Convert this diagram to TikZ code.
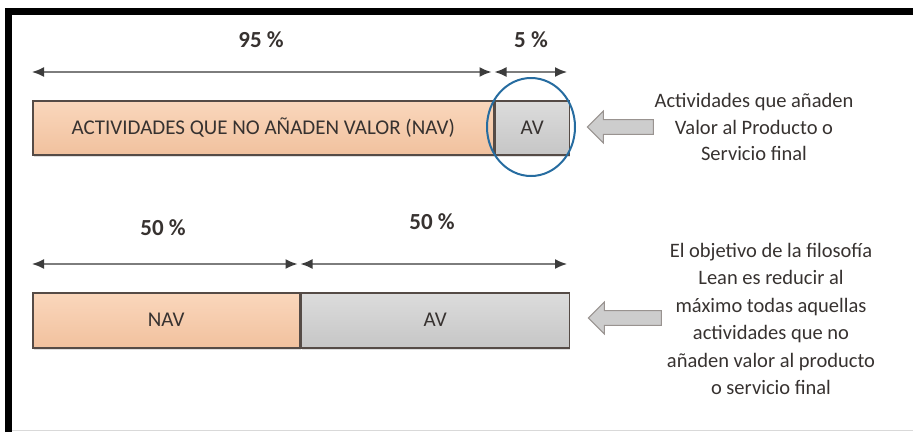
\documentclass[tikz,border=0pt]{standalone}
\usepackage{fontspec}
\setmainfont{Carlito}
\usetikzlibrary{arrows.meta,shapes.geometric,shapes.arrows,shadows}

\definecolor{navtop}{RGB}{250,215,188}
\definecolor{navbot}{RGB}{241,193,158}
\definecolor{avtop}{RGB}{220,220,220}
\definecolor{avbot}{RGB}{198,198,198}
\definecolor{edge}{RGB}{85,75,70}
\definecolor{ink}{RGB}{55,50,48}
\definecolor{ring}{RGB}{38,108,160}
\definecolor{dimline}{RGB}{125,125,125}
\definecolor{dimtip}{RGB}{60,60,60}
\definecolor{ptrfill}{RGB}{205,205,205}

\tikzset{
  bar/.style={draw=edge, line width=1.5pt, inner sep=0pt, anchor=north west,
    text=ink, font=\fontsize{21}{24}\selectfont,
    drop shadow={shadow xshift=1pt, shadow yshift=-2pt, opacity=.25}},
  navbar/.style={bar, top color=navtop, bottom color=navbot},
  avbar/.style={bar, top color=avtop, bottom color=avbot},
  dim/.style={draw=dimline, line width=1.6pt,
    {Latex[length=12pt,width=10pt,color=dimtip]}-{Latex[length=12pt,width=10pt,color=dimtip]}},
  pct/.style={text=ink, font=\fontsize{23}{26}\selectfont\bfseries},
  pointer/.style={single arrow, shape border rotate=180, draw=edge!60, line width=1pt,
    fill=ptrfill, inner xsep=0pt, inner ysep=5.5pt, minimum width=32, single arrow tip angle=90},
  note/.style={align=center, text=ink}
}

\begin{document}
\begin{tikzpicture}[x=1pt,y=-1pt]
\useasboundingbox (0,0) rectangle (913,432);

% frame
\draw[line width=7pt, line join=miter] (8.5,432) -- (8.5,11.5) -- (913,11.5);
\draw[line width=1.5pt, black!15] (12,430.5) -- (913,430.5);

% 95 / 5
\node[navbar, minimum width=461, minimum height=54] (nav1) at (32,100) {ACTIVIDADES QUE NO AÑADEN VALOR (NAV)};
\node[avbar, minimum width=74, minimum height=54] (av1) at (nav1.north east) {AV};
\node[ellipse, draw=ring, line width=2pt, minimum width=88, minimum height=98, inner sep=0pt] (halo) at (531,127) {};

\coordinate (a0) at (32,72);
\coordinate (a1) at (493,72);
\coordinate (a2) at (567,72);
\draw[dim, shorten >=1.5pt] (a0) -- (a1);
\draw[dim, shorten <=1.5pt] (a1) -- (a2);
\node[pct] (p95) at (261,40) {95 \%};
\node[pct] (p5) at (531,40) {5 \%};

\node[pointer, minimum height=66] (ptr1) at (624,127) {};
\node[note, font=\fontsize{20.5}{26.5}\selectfont] (txt1) at (754,127)
  {Actividades que añaden\\Valor al Producto o\\Servicio final};

% 50 / 50
\node[navbar, minimum width=267, minimum height=55] (nav2) at (32,292) {NAV};
\node[avbar, minimum width=268, minimum height=55] (av2) at (nav2.north east) {AV};

\coordinate (b0) at (32,264);
\coordinate (b1) at (299,264);
\coordinate (b2) at (567,264);
\draw[dim, shorten >=1.5pt] (b0) -- (b1);
\draw[dim, shorten <=1.5pt] (b1) -- (b2);
\node[pct] (p50a) at (163,228) {50 \%};
\node[pct] (p50b) at (432,222) {50 \%};

\node[pointer, minimum height=73] (ptr2) at (628.5,318) {};
\node[note, font=\fontsize{20.5}{27.5}\selectfont] (txt2) at (771,319)
  {El objetivo de la filosofía\\Lean es reducir al\\máximo todas aquellas\\actividades que no\\añaden valor al producto\\o servicio final};
\end{tikzpicture}
\end{document}
